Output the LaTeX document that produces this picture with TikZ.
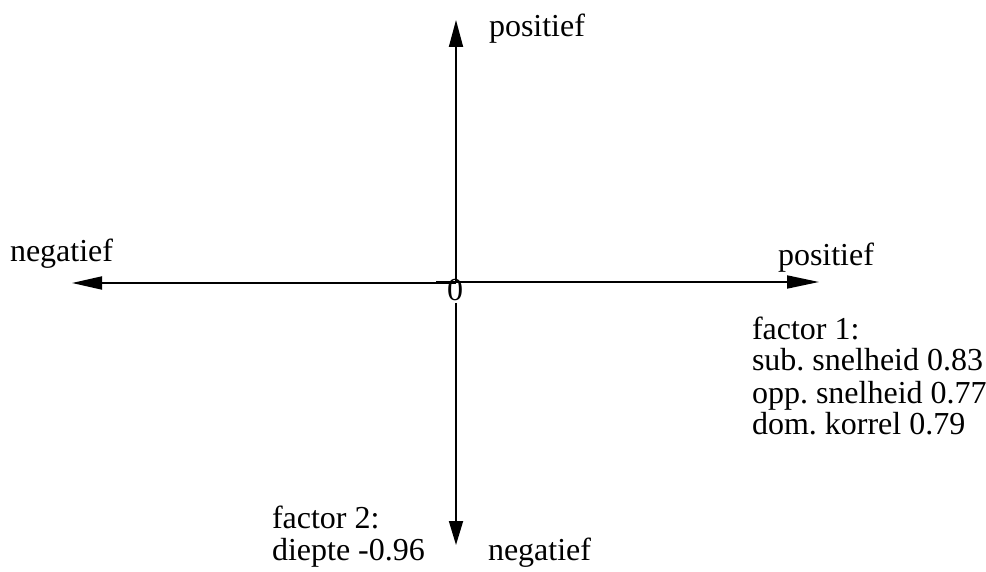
\documentclass[tikz,border=0pt]{standalone}
\usepackage{fontspec}
\setmainfont{Liberation Serif}
\usetikzlibrary{arrows.meta}
\frenchspacing
\tikzset{
  axis/.style={line width=1.8pt, line cap=butt},
  lbl/.style={inner sep=0pt, outer sep=0pt, anchor=base west, font=\fontsize{32}{32}\selectfont\frenchspacing},
}
\begin{document}
\begin{tikzpicture}[x=1pt,y=-1pt]
\useasboundingbox (0,0) rectangle (986,572);
% named points
\coordinate (c) at (456,283);
\coordinate (cr) at (436,282);
\coordinate (cb) at (456,303);
\coordinate (top) at (456,20);
\coordinate (bot) at (456,545);
\coordinate (left) at (72,283);
\coordinate (right) at (819,282);
% axes
\draw[axis, -{Triangle[length=27pt,width=14pt]}] (c) -- (top);
\draw[axis, -{Triangle[length=24pt,width=14pt]}] (cb) -- (bot);
\draw[axis, -{Triangle[length=30pt,width=13pt]}] (c) -- (left);
\draw[axis, -{Triangle[length=32pt,width=13pt]}] (cr) -- (right);
% labels
\node[lbl, anchor=base] (zero) at (455,301) {0};
\node[lbl] (ptop) at (489,37) {positief};
\node[lbl] (nleft) at (10,262) {negatief};
\node[lbl] (pright) at (778,266) {positief};
\node[lbl] (nbot) at (488,560) {negatief};
\node[lbl] (f1) at (752,339) {\begin{tabular}[t]{@{}l@{}}factor 1:\\sub. snelheid 0.83\\opp. snelheid 0.77\\dom. korrel 0.79\end{tabular}};
\node[lbl] (f2) at (272,528) {\begin{tabular}[t]{@{}l@{}}factor 2:\\diepte -0.96\end{tabular}};
\end{tikzpicture}
\end{document}
